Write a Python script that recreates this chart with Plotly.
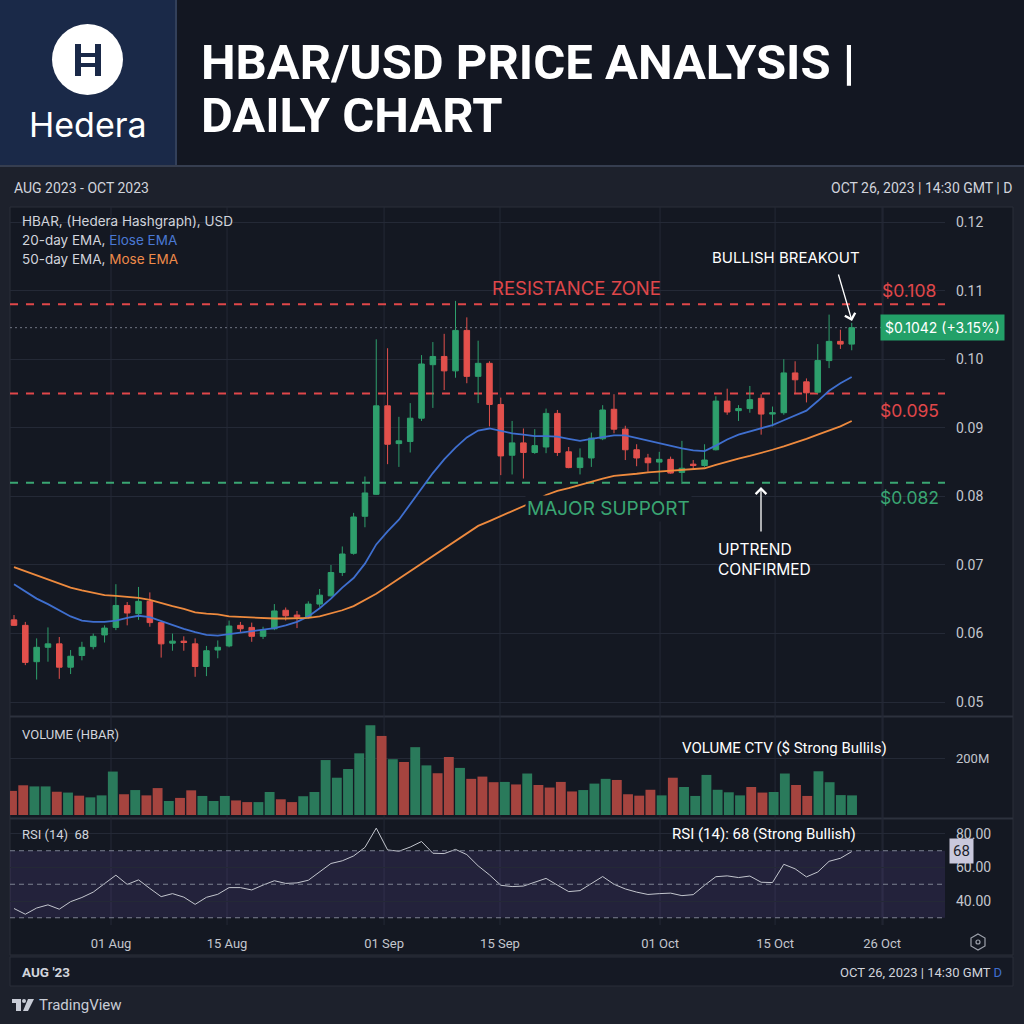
import plotly.graph_objects as go

# ---------------- DATA ----------------
opens = [0.0620, 0.0612, 0.0559, 0.0580, 0.0585, 0.0551, 0.0568, 0.0581, 0.0598, 0.0609,
         0.0641, 0.0629, 0.0647, 0.0616, 0.0586, 0.0589, 0.0585, 0.0552, 0.0576, 0.0582,
         0.0612, 0.0609, 0.0596, 0.0607, 0.0634, 0.0627, 0.0624, 0.0643, 0.0655, 0.0689,
         0.0717, 0.0771, 0.0803, 0.0932, 0.0877, 0.0880, 0.0914, 0.0992, 0.1004, 0.0983,
         0.1042, 0.0975, 0.0994, 0.0934, 0.0860, 0.0878, 0.0864, 0.0872, 0.0921, 0.0865,
         0.0842, 0.0856, 0.0884, 0.0927, 0.0898, 0.0868, 0.0856, 0.0850, 0.0854, 0.0835,
         0.0847, 0.0845, 0.0868, 0.0939, 0.0925, 0.0928, 0.0943, 0.0920, 0.0922, 0.0980,
         0.0967, 0.0952, 0.0998, 0.1026, 0.1022]
highs = [0.0627, 0.0617, 0.0593, 0.0609, 0.0595, 0.0576, 0.0588, 0.0600, 0.0612, 0.0672,
         0.0646, 0.0668, 0.0660, 0.0617, 0.0600, 0.0596, 0.0593, 0.0582, 0.0590, 0.0619,
         0.0617, 0.0616, 0.0610, 0.0643, 0.0638, 0.0633, 0.0647, 0.0665, 0.0700, 0.0727,
         0.0776, 0.0829, 0.1029, 0.1016, 0.0916, 0.0936, 0.1006, 0.1025, 0.1037, 0.1085,
         0.1061, 0.1027, 0.0997, 0.0944, 0.0910, 0.0899, 0.0898, 0.0928, 0.0926, 0.0872,
         0.0870, 0.0893, 0.0933, 0.0949, 0.0903, 0.0876, 0.0862, 0.0865, 0.0858, 0.0881,
         0.0853, 0.0876, 0.0946, 0.0957, 0.0933, 0.0961, 0.0949, 0.0931, 0.1000, 0.0997,
         0.0972, 0.1022, 0.1065, 0.1043, 0.1053]
lows = [0.0611, 0.0554, 0.0533, 0.0559, 0.0534, 0.0541, 0.0561, 0.0577, 0.0587, 0.0605,
        0.0612, 0.0620, 0.0610, 0.0565, 0.0575, 0.0575, 0.0537, 0.0538, 0.0564, 0.0580,
        0.0602, 0.0588, 0.0592, 0.0605, 0.0619, 0.0608, 0.0622, 0.0639, 0.0654, 0.0684,
        0.0715, 0.0755, 0.0802, 0.0847, 0.0843, 0.0864, 0.0910, 0.0929, 0.0955, 0.0973,
        0.0965, 0.0936, 0.0902, 0.0831, 0.0832, 0.0826, 0.0862, 0.0863, 0.0859, 0.0841,
        0.0832, 0.0843, 0.0882, 0.0892, 0.0853, 0.0844, 0.0836, 0.0821, 0.0833, 0.0818,
        0.0839, 0.0843, 0.0867, 0.0919, 0.0910, 0.0922, 0.0890, 0.0902, 0.0919, 0.0949,
        0.0937, 0.0950, 0.0987, 0.1015, 0.1013]
closes = [0.0612, 0.0558, 0.0580, 0.0585, 0.0551, 0.0567, 0.0580, 0.0596, 0.0608, 0.0641,
          0.0630, 0.0647, 0.0616, 0.0585, 0.0589, 0.0587, 0.0552, 0.0575, 0.0580, 0.0611,
          0.0607, 0.0596, 0.0605, 0.0633, 0.0626, 0.0624, 0.0643, 0.0656, 0.0689, 0.0716,
          0.0770, 0.0805, 0.0932, 0.0876, 0.0881, 0.0914, 0.0993, 0.1004, 0.0983, 0.1042,
          0.0975, 0.0994, 0.0934, 0.0859, 0.0878, 0.0864, 0.0874, 0.0921, 0.0864, 0.0842,
          0.0856, 0.0885, 0.0926, 0.0898, 0.0868, 0.0856, 0.0849, 0.0854, 0.0834, 0.0841,
          0.0845, 0.0853, 0.0939, 0.0923, 0.0928, 0.0941, 0.0920, 0.0922, 0.0980, 0.0970,
          0.0951, 0.0998, 0.1026, 0.1022, 0.1046]
ema20 = [0.0672, 0.0661, 0.0651, 0.0643, 0.0634, 0.0625, 0.0619, 0.0617, 0.0617, 0.0619,
         0.0623, 0.0626, 0.0624, 0.0618, 0.0612, 0.0607, 0.0602, 0.0598, 0.0597, 0.0599,
         0.0601, 0.0603, 0.0605, 0.0608, 0.0612, 0.0617, 0.0625, 0.0637, 0.0651, 0.0667,
         0.0681, 0.0702, 0.0730, 0.0749, 0.0766, 0.0789, 0.0811, 0.0834, 0.0854, 0.0871,
         0.0886, 0.0896, 0.0899, 0.0895, 0.0892, 0.0890, 0.0888, 0.0888, 0.0887, 0.0884,
         0.0881, 0.0884, 0.0887, 0.0889, 0.0889, 0.0885, 0.0881, 0.0878, 0.0874, 0.0870,
         0.0867, 0.0866, 0.0874, 0.0883, 0.0890, 0.0895, 0.0900, 0.0904, 0.0911, 0.0918,
         0.0925, 0.0939, 0.0954, 0.0965, 0.0974]
ema50 = [0.0697, 0.0691, 0.0685, 0.0679, 0.0673, 0.0667, 0.0663, 0.0659, 0.0656, 0.0655,
         0.0654, 0.0652, 0.0649, 0.0644, 0.0640, 0.0636, 0.0631, 0.0629, 0.0628, 0.0625,
         0.0624, 0.0623, 0.0623, 0.0622, 0.0622, 0.0622, 0.0623, 0.0625, 0.0629, 0.0634,
         0.0640, 0.0649, 0.0658, 0.0669, 0.0680, 0.0691, 0.0703, 0.0714, 0.0725, 0.0736,
         0.0747, 0.0757, 0.0764, 0.0771, 0.0778, 0.0785, 0.0793, 0.0802, 0.0808, 0.0812,
         0.0817, 0.0821, 0.0826, 0.0830, 0.0831, 0.0833, 0.0835, 0.0836, 0.0837, 0.0839,
         0.0840, 0.0841, 0.0846, 0.0851, 0.0855, 0.0859, 0.0863, 0.0868, 0.0873, 0.0878,
         0.0884, 0.0890, 0.0896, 0.0902, 0.0910]
volume_m = [86, 106, 102, 102, 83, 80, 69, 63, 70, 155,
            74, 89, 70, 96, 50, 61, 88, 68, 50, 68,
            52, 46, 46, 82, 56, 46, 67, 82, 196, 133,
            164, 220, 320, 282, 199, 189, 242, 177, 149, 207,
            168, 129, 137, 117, 118, 109, 148, 107, 98, 118,
            84, 89, 112, 129, 125, 74, 69, 90, 70, 133,
            100, 68, 143, 90, 81, 70, 100, 80, 82, 148,
            107, 68, 156, 117, 71, 70]
volume_up = [0, 0, 1, 1, 0, 1, 0, 1, 1, 1,
             0, 1, 0, 0, 1, 0, 0, 1, 1, 1,
             0, 0, 1, 1, 0, 0, 1, 1, 1, 1,
             1, 1, 1, 0, 1, 0, 1, 1, 0, 0,
             1, 0, 0, 0, 1, 0, 1, 0, 0, 0,
             0, 1, 1, 1, 0, 0, 0, 0, 1, 0,
             1, 1, 1, 1, 1, 1, 0, 0, 1, 1,
             0, 0, 1, 1, 1, 1]
rsi = [35.5, 32.1, 35.8, 37.7, 35.1, 39.6, 42.1, 45.3, 50.4, 55.4,
       49.9, 52.6, 47.5, 42.6, 44.4, 42.3, 38.0, 42.2, 44.0, 48.0,
       48.0, 46.6, 49.5, 52.1, 50.5, 50.8, 52.4, 57.3, 62.4, 64.0,
       66.9, 72.0, 83.5, 70.5, 69.7, 72.2, 75.5, 68.5, 68.3, 70.8,
       67.7, 61.0, 55.6, 49.4, 48.6, 48.9, 51.4, 53.5, 49.5, 45.6,
       46.2, 50.3, 54.6, 50.0, 47.2, 45.3, 43.9, 44.4, 44.7, 43.2,
       43.8, 49.4, 54.5, 55.0, 54.0, 54.9, 51.2, 51.0, 61.9, 59.2,
       54.4, 57.3, 63.7, 65.5, 69.5]

date_tick_pos = [8.57, 18.82, 32.69, 42.93, 57.07, 67.23, 76.68]
date_tick_labels = ["01 Aug", "15 Aug", "01 Sep", "15 Sep", "01 Oct", "15 Oct", "26 Oct"]
price_ticks = [0.05, 0.06, 0.07, 0.08, 0.09, 0.10, 0.11, 0.12]
price_tick_labels = ["0.05", "0.06", "0.07", "0.08", "0.09", "0.10", "0.11", "0.12"]
rsi_ticks = [40, 60, 80]
rsi_tick_labels = ["40.00", "60.00", "80.00"]
rsi_levels = [30, 50, 70]
volume_ticks = [200]
volume_tick_labels = ["200M"]
resistance_hi = 0.108
resistance_lo = 0.095
support = 0.082
last_price = 0.1046

# ---------------- STYLE ----------------
W = H = 1024
FONT = "Roboto"
GREEN = "#2e9f6c"
RED = "#e2504c"
VGREEN = "#2a7a5b"
VRED = "#a5443f"
BLUE = "#3f6fcf"
ORANGE = "#ee8a3e"
GRID = "#242936"
PANEL = "#141822"
PAGE = "#1d212c"
TXT = "#d1d4dc"


def px(x):
    return x / W


def py(y):
    return 1 - y / H


def note(x, y, text, size=13, color=TXT, xanchor="left", family=FONT, **kw):
    d = dict(xref="paper", yref="paper", x=px(x), y=py(y), text=text, showarrow=False,
             xanchor=xanchor, yanchor="middle", font=dict(family=family, size=size, color=color))
    d.update(kw)
    return d


X_DOM = [px(10), px(945)]
idx = list(range(len(closes)))
vidx = list(range(len(volume_m)))

fig = go.Figure()
fig.add_trace(go.Candlestick(
    x=idx, open=opens, high=highs, low=lows, close=closes,
    increasing=dict(line=dict(color=GREEN, width=1), fillcolor=GREEN),
    decreasing=dict(line=dict(color=RED, width=1), fillcolor=RED),
    whiskerwidth=0, xaxis="x", yaxis="y", showlegend=False, hoverinfo="skip"))
fig.add_trace(go.Scatter(x=idx, y=ema20, mode="lines", line=dict(color=BLUE, width=1.8),
                         xaxis="x", yaxis="y", showlegend=False, hoverinfo="skip"))
fig.add_trace(go.Scatter(x=idx, y=ema50, mode="lines", line=dict(color=ORANGE, width=1.8),
                         xaxis="x", yaxis="y", showlegend=False, hoverinfo="skip"))
fig.add_trace(go.Bar(x=vidx, y=volume_m, marker=dict(color=[VGREEN if u else VRED for u in volume_up],
                                                   line=dict(width=0)),
                     xaxis="x2", yaxis="y2", showlegend=False, hoverinfo="skip"))
fig.add_trace(go.Scatter(x=idx, y=rsi, mode="lines", line=dict(color="#c3c6ce", width=1),
                         xaxis="x3", yaxis="y3", showlegend=False, hoverinfo="skip"))

axis_common = dict(showline=False, zeroline=False, fixedrange=True, ticks="")
fig.update_layout(
    width=W, height=H, margin=dict(l=0, r=0, t=0, b=0),
    paper_bgcolor=PAGE, plot_bgcolor="rgba(0,0,0,0)",
    bargap=0.12, showlegend=False,
    xaxis=dict(domain=X_DOM, range=[-0.353, 82.24], anchor="y", showticklabels=False,
               showgrid=False, rangeslider=dict(visible=False), **axis_common),
    yaxis=dict(domain=[py(715), py(207)], range=[0.04813, 0.12219], anchor="x", side="right",
               tickvals=price_ticks, ticktext=price_tick_labels, showgrid=True, gridcolor=GRID,
               gridwidth=1, tickfont=dict(family=FONT, size=14, color="#c3c6ce"),
               ticklabelstandoff=10, **axis_common),
    xaxis2=dict(domain=X_DOM, range=[-0.179, 83.3], anchor="y2", showticklabels=False,
                showgrid=False, **axis_common),
    yaxis2=dict(domain=[py(815), py(718)], range=[0, 346], anchor="x2", side="right",
                tickvals=volume_ticks, ticktext=volume_tick_labels, showgrid=True, gridcolor=GRID,
                tickfont=dict(family=FONT, size=13, color="#c3c6ce"), ticklabelstandoff=10,
                **axis_common),
    xaxis3=dict(domain=X_DOM, range=[-0.353, 82.24], anchor="y3", showticklabels=True,
                tickvals=date_tick_pos, ticktext=date_tick_labels, showgrid=False,
                tickfont=dict(family=FONT, size=13, color="#c3c6ce"), ticklabelstandoff=9,
                **axis_common),
    yaxis3=dict(domain=[py(925), py(822)], range=[25.67, 87.16], anchor="x3", side="right",
                tickvals=rsi_ticks, ticktext=rsi_tick_labels, showgrid=True, gridcolor=GRID,
                tickfont=dict(family=FONT, size=14, color="#c3c6ce"), ticklabelstandoff=10,
                **axis_common),
)

shapes = []


def rect(x0, y0, x1, y1, fill, line=None, lw=0, layer="below"):
    shapes.append(dict(type="rect", xref="paper", yref="paper", x0=px(x0), x1=px(x1),
                       y0=py(y1), y1=py(y0), fillcolor=fill,
                       line=dict(color=line or fill, width=lw), layer=layer))


def pline(x0, y0, x1, y1, color, width=1, dash=None, layer="below"):
    shapes.append(dict(type="line", xref="paper", yref="paper", x0=px(x0), x1=px(x1),
                       y0=py(y0), y1=py(y1), line=dict(color=color, width=width, dash=dash),
                       layer=layer))


# header
rect(176, 0, 1024, 165, "#131722")
rect(0, 0, 175, 165, "#1a2948")
pline(176, 0, 176, 166, "#33405a", 2)
pline(0, 166, 1024, 166, "#363e50", 2)
# logo
shapes.append(dict(type="circle", xref="paper", yref="paper", x0=px(52), x1=px(123),
                   y0=py(95), y1=py(24), fillcolor="#ffffff", line=dict(width=0), layer="above"))
rect(75, 44, 81, 76, "#1a2948", layer="above")
rect(95, 44, 101, 76, "#1a2948", layer="above")
rect(81, 53, 95, 57, "#1a2948", layer="above")
rect(81, 63, 95, 67, "#1a2948", layer="above")
# chart panel
rect(10, 207, 1013, 955, PANEL, "#2a2e39", 1)
pline(10, 716.5, 1013, 716.5, "#2c313d", 2)
pline(10, 818.5, 1013, 818.5, "#2c313d", 2)
# vertical grid lines through all panes
for t in date_tick_pos:
    shapes.append(dict(type="line", xref="x", yref="paper", x0=t, x1=t, y0=py(925), y1=py(207),
                       line=dict(color=GRID, width=1), layer="below"))
pline(883, 207, 883, 925, GRID, 1)
# bottom bar
rect(10, 957, 1013, 986, "#151924", "#2a2e39", 1)
# RSI band and levels
shapes.append(dict(type="rect", xref="x3 domain", yref="y3", x0=0, x1=1, y0=rsi_levels[0],
                   y1=rsi_levels[2], fillcolor="rgba(120, 88, 190, 0.16)", line=dict(width=0),
                   layer="below"))
for lv in rsi_levels:
    shapes.append(dict(type="line", xref="x3 domain", yref="y3", x0=0, x1=1, y0=lv, y1=lv,
                       line=dict(color="#7c8191", width=1, dash="5px,4px"), layer="above"))
# price levels
for lv, col in [(resistance_hi, "#e0474a"), (resistance_lo, "#e0474a"), (support, "#3aa673")]:
    shapes.append(dict(type="line", xref="x domain", yref="y", x0=0, x1=1, y0=lv, y1=lv,
                       line=dict(color=col, width=2, dash="8px,8px"), layer="below"))
shapes.append(dict(type="line", xref="x domain", yref="y", x0=0, x1=0.99, y0=last_price,
                   y1=last_price, line=dict(color="#6f7482", width=1, dash="2px,3px"),
                   layer="below"))
# hexagon icon
shapes.append(dict(type="path", xref="paper", yref="paper",
                   path="M {a},{b} L {c},{d} L {c},{e} L {a},{f} L {g},{e} L {g},{d} Z".format(
                       a=px(978), b=py(934), c=px(985), d=py(938), e=py(946), f=py(950), g=px(971)),
                   line=dict(color="#9ea2ac", width=1.2), fillcolor="rgba(0,0,0,0)", layer="above"))
shapes.append(dict(type="circle", xref="paper", yref="paper", x0=px(976), x1=px(980),
                   y0=py(944), y1=py(940), line=dict(color="#9ea2ac", width=1.2), layer="above"))
# TradingView logo
rect(12, 999, 21, 1003, "#c8ccd6", layer="above")
rect(16, 999, 21, 1011, "#c8ccd6", layer="above")
shapes.append(dict(type="circle", xref="paper", yref="paper", x0=px(22), x1=px(26),
                   y0=py(1003), y1=py(999), fillcolor="#c8ccd6", line=dict(width=0), layer="above"))
shapes.append(dict(type="path", xref="paper", yref="paper",
                   path="M {a},{b} L {c},{b} L {d},{e} L {f},{e} Z".format(
                       a=px(28), b=py(999), c=px(34), d=px(28), e=py(1011), f=px(23)),
                   fillcolor="#c8ccd6", line=dict(width=0), layer="above"))
fig.update_layout(shapes=shapes)

ann = []
ann.append(note(88, 124, "Hedera", 34, "#ffffff", "center", family="Inter"))
ann.append(note(199, 62, "<b>HBAR/USD PRICE ANALYSIS |</b>", 49, "#ffffff"))
ann.append(note(199, 115, "<b>DAILY CHART</b>", 49, "#ffffff"))
ann.append(note(12, 188, "AUG 2023 - OCT 2023", 14, TXT))
ann.append(note(1014, 188, "OCT 26, 2023 | 14:30 GMT | D", 14, TXT, "right"))
ann.append(note(20, 221, "HBAR, (Hedera Hashgraph), USD", 13.5, TXT, family="Inter"))
ann.append(note(20, 240, "20-day EMA, <span style='color:#4a78d4'>Elose EMA</span>", 13.5, TXT,
                family="Inter"))
ann.append(note(20, 259, "50-day EMA, <span style='color:#ee8a4a'>Mose EMA</span>", 13.5, TXT,
                family="Inter"))
ann.append(note(576, 288, "RESISTANCE ZONE", 18.5, "#e0474a", "center", family="Inter"))
ann.append(note(608, 508, "MAJOR SUPPORT", 19, "#3aa673", "center", family="Inter",
                bgcolor=PANEL, borderpad=1))
ann.append(note(786, 257, "BULLISH BREAKOUT", 15, "#ffffff", "center", family="Inter"))
ann.append(note(764, 559, "UPTREND<br>CONFIRMED", 15.5, "#ffffff", "center", family="Inter",
                align="left"))
ann.append(note(909, 290, "$0.108", 17.5, "#e0474a", "center", family="Inter"))
ann.append(note(909, 410, "$0.095", 17.5, "#e0474a", "center", family="Inter"))
ann.append(note(909, 497, "$0.082", 17.5, "#3aa673", "center", family="Inter"))
ann.append(note(942, 327.5, "$0.1042 (+3.15%)", 14, "#ffffff", "center", family="Inter",
                bgcolor="#23a068", borderpad=4))
# arrows
ann.append(dict(xref="paper", yref="paper", x=px(761), y=py(487), ax=0, ay=46, text="",
                showarrow=True, arrowhead=4, arrowsize=1.6, arrowwidth=1.3, arrowcolor="#ffffff"))
ann.append(dict(xref="paper", yref="paper", x=px(852), y=py(321), ax=-14, ay=-48, text="",
                showarrow=True, arrowhead=4, arrowsize=1.6, arrowwidth=1.3, arrowcolor="#ffffff"))
ann.append(note(20, 734, "VOLUME (HBAR)", 13, TXT))
ann.append(note(680, 748, "VOLUME CTV ($ Strong Bullils)", 15, "#ffffff"))
ann.append(note(20, 834, "RSI (14)&nbsp;&nbsp;68", 13, TXT))
ann.append(note(670, 834, "RSI (14): 68 (Strong Bullish)", 15, "#ffffff"))
ann.append(note(961, 851, "68", 15, "#1b1e29", "center", bgcolor="#c9c8dc", borderpad=3))
ann.append(note(20, 972, "<b>AUG '23</b>", 13.5, TXT))
ann.append(note(1004, 972, "OCT 26, 2023 | 14:30 GMT <span style='color:#3f6fcf'>D</span>", 13,
                TXT, "right"))
ann.append(note(37, 1005, "TradingView", 15, "#c8ccd6"))
fig.update_layout(annotations=ann)

fig.write_html("out.html")
